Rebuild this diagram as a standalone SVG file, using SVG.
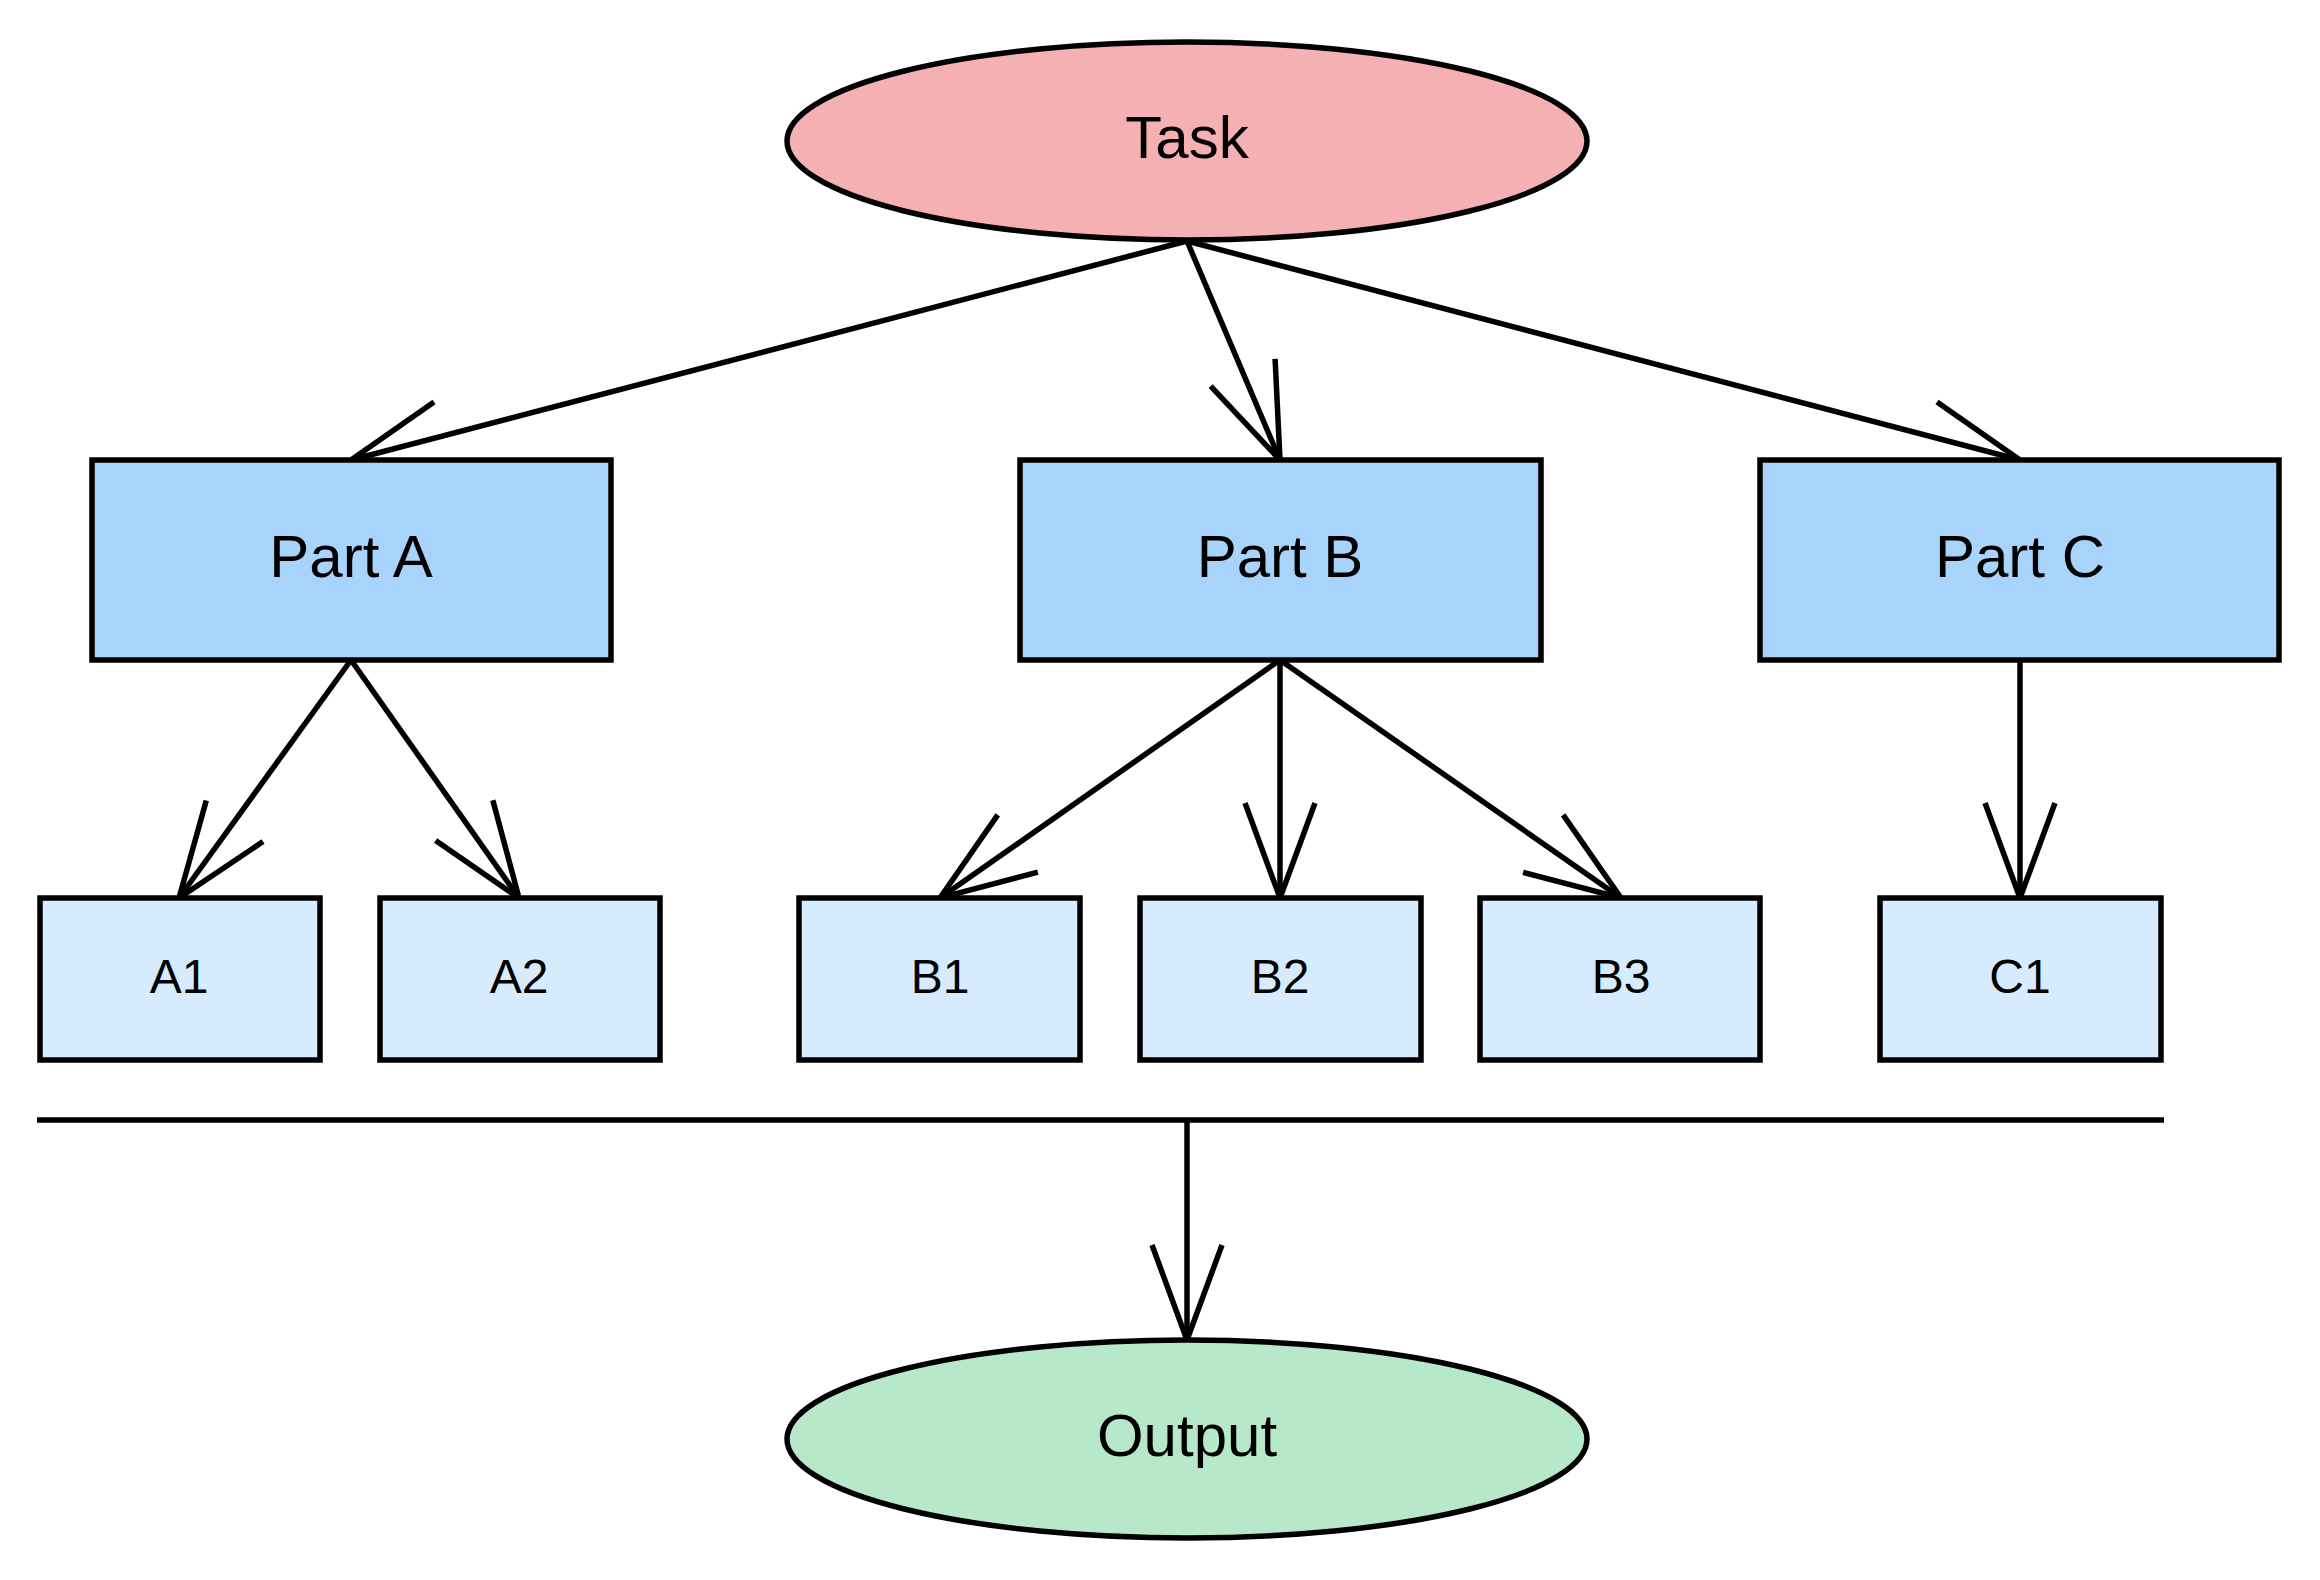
<svg xmlns="http://www.w3.org/2000/svg" width="2320" height="1580" viewBox="0 0 2320 1580">
<style>
.n{stroke:#000;stroke-width:5.5}
.t{font-family:"Liberation Sans",Arial,sans-serif;text-anchor:middle;dominant-baseline:central;fill:#000}
.big{font-size:60px}.sm{font-size:48px}
.e{fill:none;stroke:#000;stroke-width:5.5;marker-end:url(#ah)}
</style>
<defs>
<marker id="ah" markerUnits="userSpaceOnUse" markerWidth="120" markerHeight="120" refX="100" refY="50" orient="auto" viewBox="0 0 120 100">
<path d="M5,15 L100,50 L5,85" fill="none" stroke="#000" stroke-width="5.5"/>
</marker>
</defs>
<rect width="2320" height="1580" fill="#fff"/>
<g id="connectors">
<line class="e" x1="1187" y1="241" x2="351" y2="460"/>
<line class="e" x1="1187" y1="241" x2="1280" y2="460"/>
<line class="e" x1="1187" y1="241" x2="2020" y2="460"/>
<line class="e" x1="351" y1="660" x2="179" y2="898"/>
<line class="e" x1="351" y1="660" x2="519" y2="898"/>
<line class="e" x1="1280" y1="660" x2="940" y2="898"/>
<line class="e" x1="1280" y1="660" x2="1280" y2="898"/>
<line class="e" x1="1280" y1="660" x2="1621" y2="898"/>
<line class="e" x1="2020" y1="660" x2="2020" y2="898"/>
<line x1="37" y1="1120" x2="2164" y2="1120" stroke="#000" stroke-width="5.5"/>
<line class="e" x1="1187" y1="1120" x2="1187" y2="1340"/>
</g>
<g id="task"><ellipse class="n" cx="1187" cy="141" rx="400" ry="99" fill="#f4b0b2"/><text class="t big" x="1187" y="137">Task</text></g>
<g id="partA"><rect class="n" x="92" y="460" width="519" height="200" fill="#a8d4fc"/><text class="t big" x="351" y="556">Part A</text></g>
<g id="partB"><rect class="n" x="1020" y="460" width="521" height="200" fill="#a8d4fc"/><text class="t big" x="1280" y="556">Part B</text></g>
<g id="partC"><rect class="n" x="1760" y="460" width="519" height="200" fill="#a8d4fc"/><text class="t big" x="2020" y="556">Part C</text></g>
<g id="A1"><rect class="n" x="40" y="898" width="280" height="162" fill="#d6ebfd"/><text class="t sm" x="179" y="976">A1</text></g>
<g id="A2"><rect class="n" x="380" y="898" width="280" height="162" fill="#d6ebfd"/><text class="t sm" x="519" y="976">A2</text></g>
<g id="B1"><rect class="n" x="799" y="898" width="281" height="162" fill="#d6ebfd"/><text class="t sm" x="940" y="976">B1</text></g>
<g id="B2"><rect class="n" x="1140" y="898" width="281" height="162" fill="#d6ebfd"/><text class="t sm" x="1280" y="976">B2</text></g>
<g id="B3"><rect class="n" x="1480" y="898" width="280" height="162" fill="#d6ebfd"/><text class="t sm" x="1621" y="976">B3</text></g>
<g id="C1"><rect class="n" x="1880" y="898" width="281" height="162" fill="#d6ebfd"/><text class="t sm" x="2020" y="976">C1</text></g>
<g id="output"><ellipse class="n" cx="1187" cy="1439" rx="400" ry="99" fill="#b8e8ca"/><text class="t big" x="1187" y="1435">Output</text></g>
</svg>
